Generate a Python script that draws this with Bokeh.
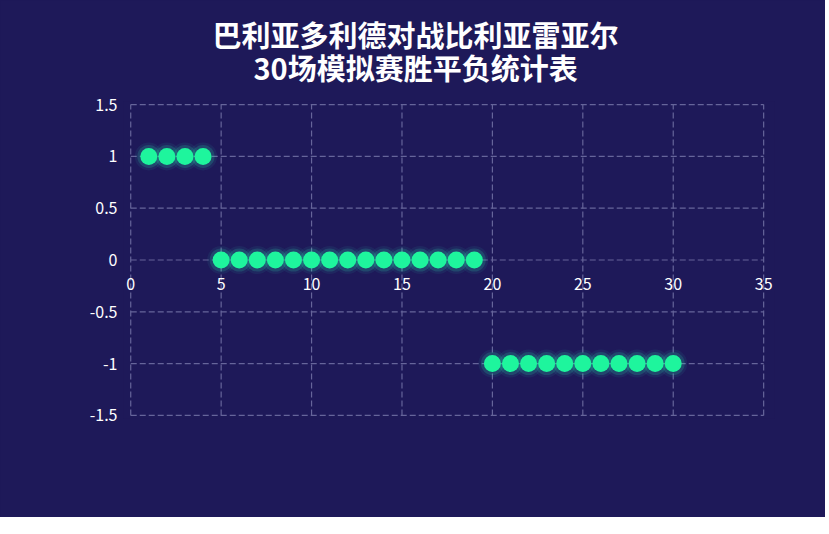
from bokeh.plotting import figure
from bokeh.models import Title, FixedTicker, ColumnDataSource
from bokeh.embed import file_html
from bokeh.resources import INLINE

title_line1 = "巴利亚多利德对战比利亚雷亚尔"
title_line2 = "30场模拟赛胜平负统计表"

rounds = [1, 2, 3, 4, 5, 6, 7, 8, 9, 10, 11, 12, 13, 14, 15,
          16, 17, 18, 19, 20, 21, 22, 23, 24, 25, 26, 27, 28, 29, 30]
results = [1, 1, 1, 1, 0, 0, 0, 0, 0, 0, 0, 0, 0, 0, 0,
           0, 0, 0, 0, -1, -1, -1, -1, -1, -1, -1, -1, -1, -1, -1]

x_ticks = [0, 5, 10, 15, 20, 25, 30, 35]
y_ticks = [-1.5, -1, -0.5, 0, 0.5, 1, 1.5]
y_tick_labels = ["-1.5", "-1", "-0.5", "0", "0.5", "1", "1.5"]

bg = "#1e1959"
grid_color = "#66659a"
dot_color = "#1ef59d"
font = "Noto Sans CJK SC"

src = ColumnDataSource(data=dict(x=rounds, y=results))

x_lo, x_hi = x_ticks[0], x_ticks[-1]
y_lo, y_hi = y_ticks[0], y_ticks[-1]

p = figure(width=825, height=517, x_range=(-0.4, 35.6), y_range=(-1.53, 1.53),
           output_backend="svg", toolbar_location=None,
           min_border_left=123, min_border_right=51,
           min_border_top=101, min_border_bottom=99,
           background_fill_color=bg, border_fill_color=bg,
           outline_line_color=None, title=None)
p.styles = {"background-color": bg}

# dashed grid drawn over the tick range only
p.segment(x0=x_ticks, y0=[y_lo] * len(x_ticks), x1=x_ticks, y1=[y_hi] * len(x_ticks),
          line_color=grid_color, line_dash="6 3", line_width=1.2)
p.segment(x0=[x_lo] * len(y_ticks), y0=y_ticks, x1=[x_hi] * len(y_ticks), y1=y_ticks,
          line_color=grid_color, line_dash="6 3", line_width=1.2)

# glow
p.scatter("x", "y", source=src, size=28, color="#3ce8c8", alpha=0.07, line_color=None)
p.scatter("x", "y", source=src, size=23, color="#2ef0b4", alpha=0.16, line_color=None)
p.scatter("x", "y", source=src, size=17, color=dot_color, line_color=None)

p.xgrid.visible = False
p.ygrid.visible = False

p.xaxis.ticker = FixedTicker(ticks=x_ticks)
p.yaxis.ticker = FixedTicker(ticks=y_ticks)
p.yaxis.major_label_overrides = {t: l for t, l in zip(y_ticks, y_tick_labels)}
p.xaxis.fixed_location = 0

for ax in (p.xaxis, p.yaxis):
    ax.axis_line_color = None
    ax.major_tick_line_color = None
    ax.minor_tick_line_color = None
    ax.major_label_text_color = "white"
    ax.major_label_text_font = font
    ax.major_label_text_font_size = "16px"
p.xaxis.major_label_standoff = 12
p.yaxis.major_label_standoff = 0

p.add_layout(Title(text=title_line2, text_color="white", text_font=font,
                   text_font_size="29px", text_font_style="bold",
                   align="left", offset=130, standoff=24,
                   vertical_align="top"), "above")
p.add_layout(Title(text=title_line1, text_color="white", text_font=font,
                   text_font_size="29px", text_font_style="bold",
                   align="left", offset=89, standoff=-42,
                   vertical_align="bottom"), "above")

open("out.html", "w").write(file_html(p, INLINE))
